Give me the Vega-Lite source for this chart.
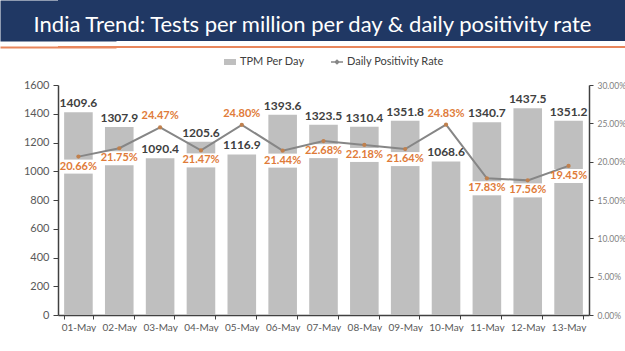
{
  "$schema": "https://vega.github.io/schema/vega-lite/v6.json",
  "padding": 0,
  "background": "white",
  "config": {"view": {"stroke": null}, "font": "Lato"},
  "datasets": {
    "d": [
      {"date": "01-May", "tpm": 1409.6, "rate": 0.2066},
      {"date": "02-May", "tpm": 1307.9, "rate": 0.2175},
      {"date": "03-May", "tpm": 1090.4, "rate": 0.2447},
      {"date": "04-May", "tpm": 1205.6, "rate": 0.2147},
      {"date": "05-May", "tpm": 1116.9, "rate": 0.2480},
      {"date": "06-May", "tpm": 1393.6, "rate": 0.2144},
      {"date": "07-May", "tpm": 1323.5, "rate": 0.2268},
      {"date": "08-May", "tpm": 1310.4, "rate": 0.2218},
      {"date": "09-May", "tpm": 1351.8, "rate": 0.2164},
      {"date": "10-May", "tpm": 1068.6, "rate": 0.2483},
      {"date": "11-May", "tpm": 1340.7, "rate": 0.1783},
      {"date": "12-May", "tpm": 1437.5, "rate": 0.1756},
      {"date": "13-May", "tpm": 1351.2, "rate": 0.1945}
    ]
  },
  "spacing": 27,
  "vconcat": [
    {
      "spacing": 0,
      "vconcat": [
        {
          "width": 567,
          "height": 41,
          "view": {"fill": "#203864", "stroke": null},
          "data": {"values": [{}]},
          "mark": {"type": "text", "text": "India Trend: Tests per million per day & daily positivity rate", "color": "white", "fontSize": 22, "font": "Lato", "dx": -29, "dy": 4},
          "encoding": {
            "y": {"datum": 0.5, "type": "quantitative", "scale": {"domain": [0, 1]},
              "axis": {"title": null, "labels": false, "ticks": false, "grid": false, "domainColor": "#203864", "domainWidth": 116}}
          }
        },
        {
          "width": 567,
          "height": 2,
          "view": {"fill": "#E8865C", "stroke": null},
          "data": {"values": [{}]},
          "mark": {"type": "text", "text": ""},
          "encoding": {
            "y": {"datum": 0.5, "type": "quantitative", "scale": {"domain": [0, 1]},
              "axis": {"title": null, "labels": false, "ticks": false, "grid": false, "domainColor": "#E8865C", "domainWidth": 116}}
          }
        }
      ]
    },
    {
      "width": 531,
      "height": 230,
      "data": {"name": "d"},
      "encoding": {
        "x": {
          "field": "date", "type": "ordinal", "sort": null,
          "scale": {"paddingInner": 0.3, "paddingOuter": 0.15},
          "axis": {"title": null, "labelAngle": 0, "ticks": true, "tickBand": "extent", "tickSize": 4, "tickColor": "#404040", "labelPadding": 3, "labelFontSize": 10, "labelColor": "#595959", "domainColor": "#404040", "domainWidth": 1.5}
        }
      },
      "layer": [
        {
          "encoding": {
            "y": {
              "field": "tpm", "type": "quantitative",
              "scale": {"domain": [0, 1600]},
              "axis": {"title": null, "format": "d", "values": [0, 200, 400, 600, 800, 1000, 1200, 1400, 1600], "grid": false, "labelFontSize": 11, "labelColor": "#595959", "domainColor": "#404040", "domainWidth": 1.5, "tickColor": "#404040", "tickSize": 5, "labelPadding": 4, "minExtent": 58}
            }
          },
          "layer": [
            {
              "mark": {"type": "bar"},
              "encoding": {
                "fill": {"datum": "TPM Per Day", "type": "nominal", "scale": {"range": ["#BFBFBF"]},
                  "legend": {"title": null, "orient": "none", "legendX": 165, "legendY": 55, "symbolType": "M-1,-0.5H1V0.5H-1Z", "symbolSize": 144, "labelFontSize": 11, "labelColor": "#404040", "labelOffset": 3, "padding": 0}}
              }
            },
            {
              "mark": {"type": "text", "dy": -9, "fontWeight": "bold", "fontSize": 12, "color": "#404040"},
              "encoding": {"text": {"field": "tpm", "type": "quantitative", "format": ".1f"}}
            }
          ]
        },
        {
          "encoding": {
            "y": {
              "field": "rate", "type": "quantitative",
              "scale": {"domain": [0, 0.3]},
              "axis": {"title": null, "orient": "right", "format": ".2%", "values": [0, 0.05, 0.1, 0.15, 0.2, 0.25, 0.3], "grid": false, "labelFontSize": 8.5, "labelColor": "#7F7F7F", "domainColor": "#404040", "domainWidth": 1.5, "tickColor": "#404040", "tickSize": 4, "labelPadding": 4}
            }
          },
          "layer": [
            {
              "transform": [{"filter": "datum.rate / 0.3 <= datum.tpm / 1600"}],
              "mark": {"type": "tick", "color": "white", "thickness": 14, "size": 31, "opacity": 1},
              "encoding": {"yOffset": {"value": 10}}
            },
            {
              "mark": {"type": "line", "strokeWidth": 2},
              "encoding": {
                "stroke": {"datum": "Daily Positivity Rate", "type": "nominal", "scale": {"range": ["#868686"]},
                  "legend": {"title": null, "orient": "none", "legendX": 272, "legendY": 55, "symbolType": "M-1,0H1M-0.3,0L0,-0.3L0.3,0L0,0.3Z", "symbolSize": 144, "symbolStrokeWidth": 1.5, "labelFontSize": 11, "labelColor": "#404040", "labelOffset": 3, "padding": 0,
                    "encode": {"symbols": {"update": {"fill": {"value": "#C0804D"}}}}}}
              }
            },
            {
              "mark": {"type": "point", "filled": true, "size": 18, "color": "#C0804D", "opacity": 1}
            },
            {
              "transform": [{"filter": "datum.rate / 0.3 > datum.tpm / 1600"}],
              "mark": {"type": "text", "dy": -11, "fontWeight": "bold", "fontSize": 11, "color": "#E07B39"},
              "encoding": {"text": {"field": "rate", "type": "quantitative", "format": ".2%"}}
            },
            {
              "transform": [{"filter": "datum.rate / 0.3 <= datum.tpm / 1600"}],
              "mark": {"type": "text", "dy": 10, "fontWeight": "bold", "fontSize": 11, "color": "#E07B39"},
              "encoding": {"text": {"field": "rate", "type": "quantitative", "format": ".2%"}}
            }
          ]
        }
      ],
      "resolve": {"scale": {"y": "independent"}}
    }
  ]
}
